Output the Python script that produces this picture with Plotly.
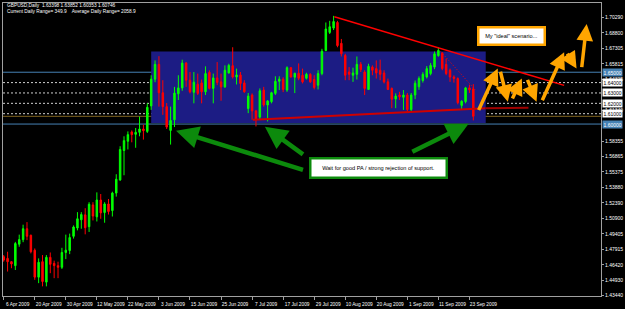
import plotly.graph_objects as go

# ---------------- data ----------------
title_line1 = "GBPUSD,Daily  1.63398 1.63852 1.60353 1.60746"
title_line2 = "Current Daily Range= 349.9    Average Daily Range= 2058.9"

tick_index = [0, 8, 16, 24, 32, 40, 48, 56, 64, 72, 80, 88, 96, 104, 112, 120]
tick_dates = ["6 Apr 2009", "20 Apr 2009", "30 Apr 2009", "12 May 2009", "22 May 2009",
              "3 Jun 2009", "15 Jun 2009", "25 Jun 2009", "7 Jul 2009", "17 Jul 2009",
              "29 Jul 2009", "10 Aug 2009", "20 Aug 2009", "1 Sep 2009", "11 Sep 2009",
              "23 Sep 2009"]

price_ticks = [1.43440, 1.44930, 1.46420, 1.47915, 1.49405, 1.50900, 1.52390, 1.53880,
               1.55375, 1.56865, 1.58355, 1.61340, 1.64325, 1.65815,
               1.67305, 1.68800, 1.70290]

opens = [1.4720, 1.4704, 1.4672, 1.4634, 1.4841, 1.4885, 1.4990, 1.4927, 1.4783, 1.4523,
         1.4672, 1.4475, 1.4714, 1.4656, 1.4634, 1.4618, 1.4761, 1.4780, 1.4917, 1.4997,
         1.5076, 1.5124, 1.5010, 1.5220, 1.5105, 1.5267, 1.5146, 1.5229, 1.5165, 1.5334,
         1.5461, 1.5745, 1.5834, 1.5924, 1.5901, 1.5920, 1.5952, 1.5929, 1.6175, 1.6433,
         1.6576, 1.6302, 1.6168, 1.5939, 1.6041, 1.6292, 1.6349, 1.6588, 1.6423, 1.6306,
         1.6385, 1.6397, 1.6311, 1.6499, 1.6344, 1.6445, 1.6407, 1.6359, 1.6493, 1.6563,
         1.6454, 1.6474, 1.6397, 1.6150, 1.6280, 1.6127, 1.6067, 1.6328, 1.6184, 1.6216,
         1.6296, 1.6413, 1.6433, 1.6328, 1.6544, 1.6452, 1.6490, 1.6471, 1.6442, 1.6480,
         1.6430, 1.6375, 1.6487, 1.6709, 1.6884, 1.6926, 1.6980, 1.6779, 1.6662, 1.6502,
         1.6471, 1.6480, 1.6576, 1.6502, 1.6334, 1.6550, 1.6535, 1.6519, 1.6493, 1.6407,
         1.6344, 1.6242, 1.6280, 1.6258, 1.6280, 1.6140, 1.6280, 1.6360, 1.6420, 1.6454,
         1.6487, 1.6550, 1.6660, 1.6684, 1.6576, 1.6519, 1.6454, 1.6439, 1.6180, 1.6216,
         1.6349, 1.63398]
highs = [1.4736, 1.4768, 1.4678, 1.4863, 1.4933, 1.5029, 1.5054, 1.4933, 1.4800, 1.4704,
         1.4736, 1.4736, 1.4761, 1.4682, 1.4672, 1.4806, 1.4933, 1.4943, 1.5022, 1.5150,
         1.5150, 1.5188, 1.5246, 1.5246, 1.5341, 1.5325, 1.5246, 1.5277, 1.5347, 1.5516,
         1.5786, 1.5882, 1.5929, 1.5939, 1.5962, 1.6072, 1.5993, 1.6200, 1.6471, 1.6614,
         1.6655, 1.6423, 1.6203, 1.6168, 1.6359, 1.6471, 1.6621, 1.6598, 1.6502, 1.6502,
         1.6487, 1.6430, 1.6557, 1.6518, 1.6487, 1.6598, 1.6487, 1.6566, 1.6582, 1.6741,
         1.6535, 1.6502, 1.6423, 1.6300, 1.6296, 1.6137, 1.6344, 1.6359, 1.6232, 1.6311,
         1.6461, 1.6461, 1.6452, 1.6557, 1.6550, 1.6495, 1.6585, 1.6535, 1.6495, 1.6490,
         1.6471, 1.6519, 1.6726, 1.6980, 1.6996, 1.7044, 1.6996, 1.6821, 1.6678, 1.6550,
         1.6544, 1.6652, 1.6598, 1.6519, 1.6582, 1.6566, 1.6614, 1.6621, 1.6519, 1.6439,
         1.6353, 1.6296, 1.6311, 1.6328, 1.6300, 1.6300, 1.6420, 1.6460, 1.6500, 1.6560,
         1.6590, 1.6700, 1.6740, 1.6694, 1.6630, 1.6535, 1.6470, 1.6450, 1.6230, 1.6359,
         1.6380, 1.63852]
lows = [1.4672, 1.4577, 1.4609, 1.4592, 1.4816, 1.4860, 1.4880, 1.4752, 1.4497, 1.4465,
        1.4434, 1.4434, 1.4561, 1.4513, 1.4513, 1.4602, 1.4697, 1.4745, 1.4895, 1.4974,
        1.4990, 1.4936, 1.4959, 1.5070, 1.5060, 1.5086, 1.5048, 1.5127, 1.5108, 1.5300,
        1.5452, 1.5506, 1.5755, 1.5824, 1.5771, 1.5882, 1.5850, 1.5914, 1.6137, 1.6404,
        1.6168, 1.6089, 1.5952, 1.5802, 1.5971, 1.6232, 1.6321, 1.6359, 1.6296, 1.6200,
        1.6280, 1.6200, 1.6280, 1.6334, 1.6200, 1.6375, 1.6225, 1.6349, 1.6487, 1.6439,
        1.6382, 1.6328, 1.6302, 1.6105, 1.6041, 1.5977, 1.6041, 1.6168, 1.6025, 1.6200,
        1.6280, 1.6328, 1.6308, 1.6311, 1.6449, 1.6299, 1.6423, 1.6392, 1.6430, 1.6397,
        1.6334, 1.6334, 1.6471, 1.6703, 1.6869, 1.6907, 1.6741, 1.6652, 1.6423, 1.6423,
        1.6407, 1.6430, 1.6502, 1.6280, 1.6328, 1.6471, 1.6439, 1.6423, 1.6392, 1.6328,
        1.6153, 1.6153, 1.6232, 1.6137, 1.6120, 1.6115, 1.6240, 1.6330, 1.6400, 1.6440,
        1.6470, 1.6530, 1.6650, 1.6519, 1.6471, 1.6407, 1.6400, 1.6190, 1.6137, 1.6200,
        1.6300, 1.60353]
closes = [1.4688, 1.4672, 1.4650, 1.4847, 1.4885, 1.4990, 1.4917, 1.4768, 1.4523, 1.4666,
          1.4481, 1.4714, 1.4647, 1.4634, 1.4618, 1.4761, 1.4783, 1.4905, 1.5007, 1.5086,
          1.5127, 1.5000, 1.5226, 1.5112, 1.5267, 1.5143, 1.5229, 1.5156, 1.5334, 1.5468,
          1.5755, 1.5840, 1.5898, 1.5898, 1.5920, 1.5952, 1.5936, 1.6162, 1.6433, 1.6576,
          1.6302, 1.6168, 1.5971, 1.6034, 1.6299, 1.6349, 1.6588, 1.6423, 1.6311, 1.6404,
          1.6296, 1.6311, 1.6487, 1.6344, 1.6445, 1.6401, 1.6359, 1.6519, 1.6566, 1.6454,
          1.6474, 1.6392, 1.6311, 1.6270, 1.6127, 1.6041, 1.6321, 1.6184, 1.6222, 1.6302,
          1.6413, 1.6433, 1.6334, 1.6544, 1.6454, 1.6490, 1.6442, 1.6407, 1.6480, 1.6407,
          1.6353, 1.6487, 1.6703, 1.6917, 1.6939, 1.6989, 1.6757, 1.6678, 1.6471, 1.6480,
          1.6493, 1.6576, 1.6525, 1.6344, 1.6557, 1.6519, 1.6493, 1.6480, 1.6407, 1.6334,
          1.6239, 1.6270, 1.6264, 1.6280, 1.6140, 1.6280, 1.6394, 1.6440, 1.6480, 1.6535,
          1.6566, 1.6678, 1.6710, 1.6535, 1.6487, 1.6454, 1.6440, 1.6206, 1.6220, 1.6349,
          1.6330, 1.60746]

# chart objects (bar index, price)
zone_x = [38.0, 124.2]
zone_y = [1.6010, 1.6700]
solid_levels = [1.65, 1.60]
dotted_levels = [1.64, 1.63, 1.62, 1.61]
bid_level = 1.60746
resistance_x = [85.2, 144.4]
resistance_y = [1.7035, 1.6373]
minor_trend_x = [112.6, 121.5]
minor_trend_y = [1.6700, 1.6330]
support_x = [64.2, 124.1]
support_y = [1.6041, 1.6153]
support_ext_x = [124.1, 135.2]
support_ext_y = [1.6153, 1.6158]
scenario_tail_x = [122.2, 127.9, 130.9, 134.8, 138.6, 145.0, 148.9]
scenario_tail_y = [1.6121, 1.6519, 1.6232, 1.6440, 1.6216, 1.6694, 1.6535]
scenario_head_x = [127.3, 129.9, 133.5, 137.3, 144.4, 147.6, 150.2]
scenario_head_y = [1.6535, 1.6216, 1.6440, 1.6216, 1.6694, 1.6535, 1.6965]
pointer_tail_x = [77.5, 77.5, 104.9]
pointer_tail_y = [1.5554, 1.5697, 1.5725]
pointer_head_x = [44.4, 67.3, 119.8]
pointer_head_y = [1.5936, 1.5974, 1.6002]
note_green = "Wait for good PA / strong rejection of support."
note_green_pos = (96.6, 1.5573)
note_orange = 'My "ideal" scenario...'
note_orange_pos = (130.8, 1.6848)

# ---------------- figure ----------------
FONT = "Liberation Sans"
idx = list(range(len(opens)))

fig = go.Figure()
fig.add_trace(go.Candlestick(
    x=idx, open=opens, high=highs, low=lows, close=closes,
    increasing=dict(line=dict(color="#00ff00", width=1), fillcolor="#00ff00"),
    decreasing=dict(line=dict(color="#ff0000", width=1), fillcolor="#ff0000"),
    whiskerwidth=0, hoverinfo="skip", showlegend=False))

shapes = []
shapes.append(dict(type="rect", xref="x", yref="y", x0=zone_x[0], x1=zone_x[1],
                   y0=zone_y[0], y1=zone_y[1], fillcolor="#1c1c84",
                   line=dict(width=0), layer="below"))
for lv in dotted_levels:
    shapes.append(dict(type="line", xref="paper", x0=0, x1=1, yref="y", y0=lv, y1=lv,
                       line=dict(color="#d0d0d0", width=1, dash="2px,2px"), layer="below"))
shapes.append(dict(type="line", xref="paper", x0=0, x1=1, yref="y", y0=bid_level, y1=bid_level,
                   line=dict(color="#7f6420", width=1), layer="below"))
for lv in solid_levels:
    shapes.append(dict(type="line", xref="paper", x0=0, x1=1, yref="y", y0=lv, y1=lv,
                       line=dict(color="#4682b4", width=1), layer="below"))
fig.update_layout(shapes=shapes)

# trend lines
fig.add_trace(go.Scatter(x=support_x, y=support_y, mode="lines",
                         line=dict(color="#d00000", width=2), hoverinfo="skip", showlegend=False))
fig.add_trace(go.Scatter(x=support_ext_x, y=support_ext_y, mode="lines",
                         line=dict(color="#a00000", width=2), hoverinfo="skip", showlegend=False))
fig.add_trace(go.Scatter(x=resistance_x, y=resistance_y, mode="lines",
                         line=dict(color="#ff0000", width=1.5), hoverinfo="skip", showlegend=False))
fig.add_trace(go.Scatter(x=minor_trend_x, y=minor_trend_y, mode="lines",
                         line=dict(color="#ff0000", width=1, dash="1px,2px"), hoverinfo="skip",
                         showlegend=False))

ann = []
for tx, ty, hx, hy in zip(pointer_tail_x, pointer_tail_y, pointer_head_x, pointer_head_y):
    ann.append(dict(x=hx, y=hy, ax=tx, ay=ty, xref="x", yref="y", axref="x", ayref="y",
                    text="", showarrow=True, arrowcolor="#0c8a0c", arrowwidth=4.5,
                    arrowhead=2, arrowsize=1.0, standoff=0, startstandoff=0))
for tx, ty, hx, hy in zip(scenario_tail_x, scenario_tail_y, scenario_head_x, scenario_head_y):
    ann.append(dict(x=hx, y=hy, ax=tx, ay=ty, xref="x", yref="y", axref="x", ayref="y",
                    text="", showarrow=True, arrowcolor="#ffa500", arrowwidth=3.5,
                    arrowhead=2, arrowsize=0.95, standoff=0, startstandoff=0))
ann.append(dict(x=note_green_pos[0], y=note_green_pos[1], xref="x", yref="y",
                text=note_green, showarrow=False, bgcolor="white", bordercolor="#0c8a0c",
                borderwidth=2.5, borderpad=2, width=130, height=13,
                font=dict(family=FONT, size=5.6, color="black")))
ann.append(dict(x=note_orange_pos[0], y=note_orange_pos[1], xref="x", yref="y",
                text=note_orange, showarrow=False, bgcolor="white", bordercolor="#ffa500",
                borderwidth=2.5, borderpad=2, width=60, height=11,
                font=dict(family=FONT, size=5.6, color="black")))
ann.append(dict(x=0, y=0.9916, xref="paper", yref="paper", xanchor="left", yanchor="middle",
                xshift=2, text=title_line1, showarrow=False,
                font=dict(family=FONT, size=4.8, color="white")))
ann.append(dict(x=0, y=0.9713, xref="paper", yref="paper", xanchor="left", yanchor="middle",
                xshift=2, text=title_line2, showarrow=False,
                font=dict(family=FONT, size=4.8, color="white")))
for lv in solid_levels:
    ann.append(dict(x=1, y=lv, xref="paper", yref="y", xanchor="left", yanchor="middle",
                    xshift=1, text=f"{lv:.5f}", showarrow=False, bgcolor="#4682b4", borderpad=0.5,
                    font=dict(family=FONT, size=5, color="white")))
for lv in dotted_levels:
    ann.append(dict(x=1, y=lv, xref="paper", yref="y", xanchor="left", yanchor="middle",
                    xshift=1, text=f"{lv:.5f}", showarrow=False, bgcolor="white", borderpad=0.5,
                    font=dict(family=FONT, size=5, color="black")))
fig.update_layout(annotations=ann)

fig.update_layout(
    width=625, height=309,
    margin=dict(l=2, r=22, t=2, b=11),
    paper_bgcolor="black", plot_bgcolor="black",
    showlegend=False, boxgap=0.45,
    xaxis=dict(range=[-0.18, 153.9], showgrid=False, zeroline=False, rangeslider=dict(visible=False),
               showline=True, linecolor="#a0a0a0", linewidth=1, mirror=True,
               ticks="outside", ticklen=3, tickcolor="#a0a0a0",
               tickvals=tick_index, ticktext=tick_dates, ticklabelshift=14,
               tickfont=dict(family=FONT, size=4.8, color="white")),
    yaxis=dict(range=[1.4341, 1.7168], side="right", showgrid=False, zeroline=False,
               showline=True, linecolor="#a0a0a0", linewidth=1, mirror=True,
               ticks="outside", ticklen=2, tickcolor="#a0a0a0",
               tickvals=price_ticks, ticktext=[f"{v:.5f}" for v in price_ticks],
               tickfont=dict(family=FONT, size=5, color="white")),
)

fig.write_html("out.html")
